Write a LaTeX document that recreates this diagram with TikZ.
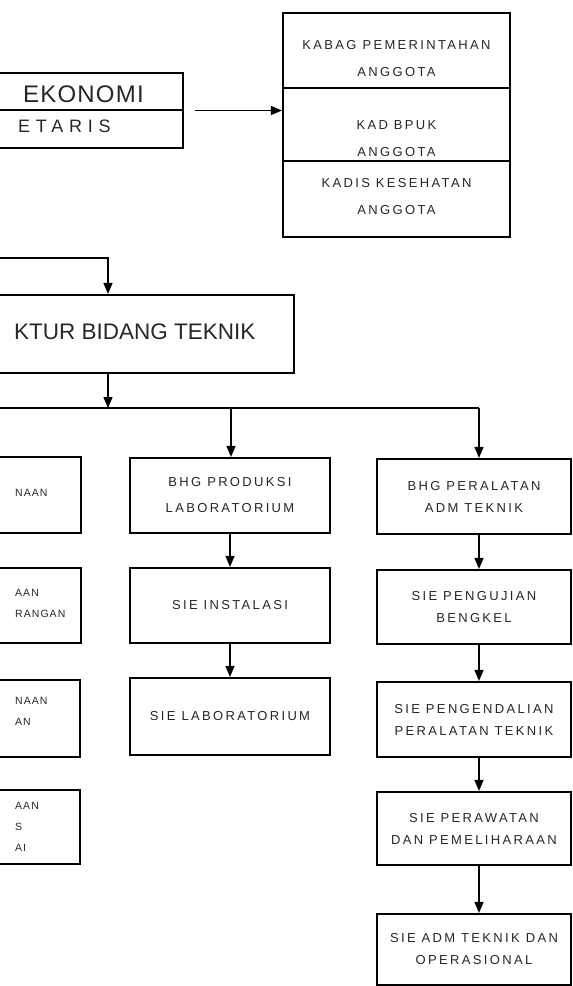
\documentclass[tikz,border=0pt]{standalone}
\usepackage{fontspec}
\usepackage{tikz}
\usetikzlibrary{arrows.meta,positioning,calc}
\newfontfamily\boxfont[LetterSpace=18]{Liberation Sans}
\newfontfamily\cutfont[LetterSpace=10]{Liberation Sans}
\newfontfamily\headfont{Liberation Sans}
\newfontfamily\ekofont[LetterSpace=5]{Liberation Sans}
\newfontfamily\thinfont[LetterSpace=32]{Liberation Sans}
\tikzset{
  orgbox/.style={draw,line width=2.1pt,inner sep=0pt,font=\boxfont\fontsize{13}{22}\selectfont,align=center,text=black!85},
  cutlab/.style={font=\cutfont\fontsize{10.5}{21}\selectfont,anchor=west,align=left,text=black!85,inner sep=0pt},
  headlab/.style={font=\headfont\fontsize{22.5}{26}\selectfont,anchor=west,text=black!85,inner sep=0pt},
  arcorg/.style={-{Triangle[length=11pt,width=9pt]},line width=1.3pt},
  arcbus/.style={line width=1.3pt},
  divline/.style={line width=1.5pt}
}
\begin{document}
\begin{tikzpicture}[x=1pt,y=-1pt]
  \useasboundingbox (0,0) rectangle (573,986);
  \clip (0,0) rectangle (573,986);
  \node[orgbox,minimum width=243pt,minimum height=75pt] (eko) at (61.5,110.5) {};
  \coordinate (ekodiv) at (0,110);
  \draw[divline] (eko.west |- ekodiv) -- (eko.east |- ekodiv);
  \node[headlab,font=\ekofont\fontsize{24}{26}\selectfont] (ekotxt) at (23,94) {EKONOMI};
  \node[headlab,font=\thinfont\fontsize{18}{22}\selectfont] (sektxt) at (18,126) {ETARIS};
  \node[orgbox,minimum width=227pt,minimum height=224pt] (kaba) at (396.5,125) {};
  \coordinate (kdiv1) at (0,88);
  \coordinate (kdiv2) at (0,161);
  \draw[divline] (kaba.west |- kdiv1) -- (kaba.east |- kdiv1);
  \draw[divline] (kaba.west |- kdiv2) -- (kaba.east |- kdiv2);
  \node[orgbox,draw=none,font=\boxfont\fontsize{13}{27}\selectfont] (kaba1) at (396.5,58.5) {KABAG PEMERINTAHAN\\ANGGOTA};
  \node[orgbox,draw=none,font=\boxfont\fontsize{13}{27}\selectfont] (kaba2) at (396.5,138.5) {KAD BPUK\\ANGGOTA};
  \node[orgbox,draw=none,font=\boxfont\fontsize{13}{27}\selectfont] (kaba3) at (396.5,196.5) {KADIS KESEHATAN\\ANGGOTA};
  \draw[arcorg] ([xshift=11pt]eko.east) -- (eko.east -| kaba.west);

  \node[orgbox,minimum width=372pt,minimum height=78pt] (dir) at (108,334) {};
  \node[headlab] (dirtxt) at (14,332) {KTUR BIDANG TEKNIK};
  \coordinate (inL) at (0,258);
  \draw[arcorg] (inL) -| (dir.north);
  \coordinate (busL) at (0,408);
  \coordinate (busM) at (231,408);
  \coordinate (busR) at (479,408);
  \draw[arcorg] (dir.south) -- (dir.south |- busL);
  \draw[arcbus] (busL) -- (busR);

  \node[orgbox,minimum width=181pt,minimum height=76pt] (kiri1) at (-9.5,495) {};
  \node[orgbox,minimum width=181pt,minimum height=75pt] (kiri2) at (-9.5,605.5) {};
  \node[orgbox,minimum width=181pt,minimum height=77pt] (kiri3) at (-10.5,718.5) {};
  \node[orgbox,minimum width=181pt,minimum height=74pt] (kiri4) at (-10.5,827) {};
  \node[cutlab] (kiri1a) at (15,493) {NAAN};
  \node[cutlab] (kiri2a) at (15,603) {AAN\\RANGAN};
  \node[cutlab] (kiri3a) at (15,711) {NAAN\\AN};
  \node[cutlab] (kiri4a) at (15,827) {AAN\\S\\AI};

  \node[orgbox,minimum width=200pt,minimum height=75pt,font=\boxfont\fontsize{13}{26}\selectfont] (prod) at (230,495.5) {BHG PRODUKSI\\LABORATORIUM};
  \node[orgbox,minimum width=200pt,minimum height=75pt] (inst) at (230,605.5) {SIE INSTALASI};
  \node[orgbox,minimum width=200pt,minimum height=77pt] (labr) at (230,716.5) {SIE LABORATORIUM};
  \draw[arcorg] (busM) -- (busM |- prod.north);
  \draw[arcorg] (prod.south) -- (inst.north);
  \draw[arcorg] (inst.south) -- (labr.north);

  \node[orgbox,minimum width=194pt,minimum height=75pt] (alat) at (474,496.5) {BHG PERALATAN\\ADM TEKNIK};
  \node[orgbox,minimum width=194pt,minimum height=74pt] (uji) at (474,607) {SIE PENGUJIAN\\BENGKEL};
  \node[orgbox,minimum width=194pt,minimum height=75pt] (kendali) at (474,719.5) {SIE PENGENDALIAN\\PERALATAN TEKNIK};
  \node[orgbox,minimum width=194pt,minimum height=73pt] (rawat) at (474,828.5) {SIE PERAWATAN\\DAN PEMELIHARAAN};
  \node[orgbox,minimum width=194pt,minimum height=71pt] (adm) at (474,949.5) {SIE ADM TEKNIK DAN\\OPERASIONAL};
  \draw[arcorg] (busR) -- (busR |- alat.north);
  \draw[arcorg] (alat.south -| busR) -- (uji.north -| busR);
  \draw[arcorg] (uji.south -| busR) -- (kendali.north -| busR);
  \draw[arcorg] (kendali.south -| busR) -- (rawat.north -| busR);
  \draw[arcorg] (rawat.south -| busR) -- (adm.north -| busR);
\end{tikzpicture}
\end{document}
